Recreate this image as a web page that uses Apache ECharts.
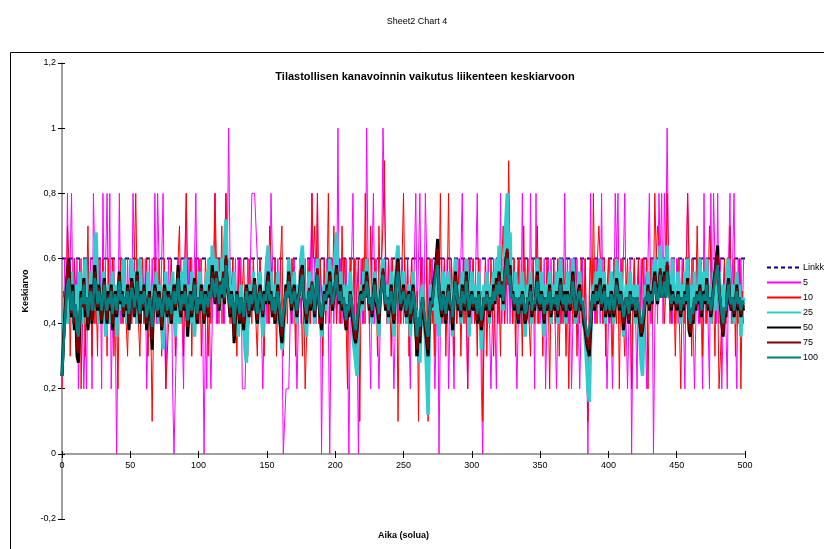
<!DOCTYPE html>
<html><head><meta charset="utf-8">
<script src="https://cdn.jsdelivr.net/npm/echarts@6/dist/echarts.min.js"></script>
<style>html,body{margin:0;padding:0;background:#fff}#c{width:824px;height:549px}</style>
</head><body><div id="c"></div>
<script>
const seriesNames = ['Linkk','5','10','25','50','75','100'];
const linkX = [0, 500];
const linkY = [0.6, 0.6];
const s5 = [
0.2,0.4,0.6,0.4,0.8,0.4,0.6,0.8,0.4,0.6, 0.4,0.6,0.2,0.4,0.6,0.4,0.2,0.4,0.2,0.6,
0.4,0.6,0.2,0.8,0.6,0.4,0.6,0.4,0.6,0.2, 0.8,0.4,0.6,0.8,0.4,0.8,0.2,0.4,0.6,0.4,
0,0.4,0.8,0.4,0.6,0.4,0.6,0.4,0.6,0.4, 0.6,0.4,0.8,0.6,0.4,0.6,0.4,0.6,0.4,0.6,
0.4,0.6,0.2,0.4,0.6,0.4,0.6,0.4,0.8,0.4, 0.8,0.6,0.4,0.6,0.8,0.4,0.2,0.4,0.6,0.4,
0.6,0.2,0,0.2,0.4,0.6,0.4,0.6,0.4,0.2, 0.6,0.8,0.4,0.6,0.4,0.6,0.4,0.6,0.8,0.4,
0.6,0.4,0.6,0.4,0,0.4,0.2,0.6,0.4,0.2, 0.4,0.6,0.8,0.4,0.6,0.4,0.6,0.4,0.6,0.4,
0.8,0.6,1,0.6,0.4,0.6,0.4,0.6,0.4,0.6, 0.4,0.6,0.2,0.2,0.2,0.4,0.6,0.4,0.6,0.8,
0.8,0.8,0.8,0.6,0.4,0.6,0.4,0.2,0.4,0.6, 0.4,0.6,0.4,0.8,0.8,0.4,0.6,0.4,0.6,0.4,
0.6,0.4,0,0,0.2,0.2,0.2,0.4,0.6,0.4, 0.6,0.4,0.2,0.4,0.6,0.4,0.6,0.4,0.6,0.4,
0.6,0.4,0.6,0.8,0.4,0.6,0.4,0.8,0.4,0.6, 0,0.4,0.6,0.4,0.6,0.4,0,0.4,0.6,0.4,
0.6,0.4,1,0.4,0.6,0.4,0.6,0.4,0.6,0.4, 0,0.4,0.6,0.8,0.4,0.6,0.4,0,0.4,0.6,
0.4,0.6,0.4,1,0.6,0.4,0.2,0.6,0.8,0.4, 0.6,0.4,0.2,0.4,0.6,1,1,0.6,0.4,0.6,
0.4,0.6,0.4,0.2,0.4,0.6,0.4,0.6,0.4,0.6, 0.4,0.6,0.4,0.6,0.4,0.2,0.6,0.4,0.6,0.8,
0.4,0.6,0.8,0.4,0.6,0.4,0.8,0.6,0.4,0.6, 0.4,0.6,0.4,0.2,0.4,0.6,0,0.4,0.6,0.4,
0.6,0.4,0.6,0.2,0.4,0.6,0.4,0.2,0.6,0.4, 0.6,0.4,0.6,0.8,0.4,0.6,0.4,0.2,0.4,0.6,
0.4,0.6,0.4,0.6,0.8,0.4,0.6,0.2,0,0.4, 0.6,0.4,0.6,0.4,0.2,0.4,0.6,0.4,0.2,0.6,
0.4,0.8,0.4,0.6,0.4,0.6,0.4,0.6,0.4,0.6, 0.4,0.6,0.4,0.2,0.4,0.6,0.4,0.8,0.4,0.6,
0.4,0.6,0.4,0.8,0.4,0.6,0.2,0.8,0.4,0.6, 0.4,0.6,0.4,0.6,0.2,0.4,0.6,0.4,0.6,0.4,
0.6,0.4,0.2,0.4,0.6,0.4,0.6,0.4,0.8,0.4, 0.6,0.4,0.6,0.2,0.4,0.6,0.4,0.6,0.4,0.2,
0.4,0.6,0.4,0.6,0.4,0,0.4,0.8,0.4,0.6, 0.4,0.6,0.4,0.6,0.4,0.8,0.4,0.6,0.4,0.2,
0.4,0.6,0.4,0.2,0.4,0.8,0.6,0.8,0.4,0.6, 0.4,0.6,0.8,0.4,0.2,0.4,0.6,0,0.4,0.6,
0.4,0.2,0.6,0.4,0.6,0.4,0.6,0.4,0.2,0.6, 0.8,0.4,0.6,0,0.4,0.6,0.4,0.8,0.6,0.8,
0.4,0.8,0.6,1,0.6,0.4,0.6,0.4,0.6,0.4, 0.6,0.4,0.6,0.4,0.6,0.4,0.2,0.6,0.8,0.8,
0.4,0.6,0.4,0.2,0.4,0.6,0.4,0.6,0.4,0.2, 0.8,0.4,0.6,0.4,0.2,0.8,0.4,0.8,0.6,0.4,
0.8,0.4,0.6,0.2,0.4,0.6,0.4,0.2,0.6,0.8, 0.4,0.6,0.8,0.4,0.2,0.6,0.4,0.6,0.4,0.6
];
const s10 = [
0.2,0.5,0.5,0.4,0.7,0.6,0.3,0.5,0.4,0.6, 0.5,0.3,0.4,0.6,0.2,0.5,0.6,0.3,0.5,0.7,
0.4,0.5,0.3,0.6,0.4,0.5,0.3,0.6,0.4,0.5, 0.6,0.4,0.5,0.3,0.6,0.4,0.5,0.6,0.3,0.5,
0.4,0.2,0.5,0.6,0.4,0.5,0.6,0.4,0.3,0.5, 0.6,0.4,0.5,0.6,0.8,0.5,0.4,0.3,0.5,0.6,
0.4,0.5,0.6,0.3,0.5,0.4,0.1,0.4,0.6,0.5, 0.4,0.6,0.5,0.3,0.5,0.6,0.2,0.2,0.4,0.5,
0.6,0.4,0.5,0.3,0.5,0.6,0.7,0.4,0.5,0.3, 0.6,0.8,0.5,0.4,0.6,0.3,0.5,0.4,0.6,0.5,
0.4,0.6,0.3,0.5,0.4,0.6,0.5,0.3,0.5,0.4, 0.6,0.5,0.8,0.6,0.4,0.6,0.5,0.7,0.4,0.6,
0.8,0.5,0.6,0.4,0.5,0.6,0.4,0.5,0.3,0.5, 0.6,0.4,0.5,0.6,0.4,0.5,0.3,0.6,0.5,0.4,
0.6,0.5,0.4,0.3,0.5,0.6,0.4,0.5,0.3,0.5, 0.6,0.4,0.7,0.7,0.5,0.4,0.6,0.3,0.5,0.4,
0.6,0.7,0.3,0.3,0.5,0.4,0.6,0.5,0.4,0.6, 0.5,0.3,0.5,0.4,0.6,0.5,0.3,0.5,0.2,0.2,
0.5,0.6,0.4,0.8,0.6,0.7,0.5,0.8,0.4,0.6, 0.5,0.3,0.6,0.4,0.5,0.8,0.4,0.6,0.5,0.7,
0.7,0.4,0.5,0.6,0.4,0.7,0.5,0.6,0.4,0.2, 0.5,0.6,0.4,0.5,0.6,0.3,0.5,0.6,0.1,0.5,
0.6,0.4,0.8,0.5,0.6,0.4,0.7,0.5,0.4,0.6, 0.5,0.3,0.7,0.5,0.6,0.7,0.9,0.5,0.4,0.6,
0.5,0.3,0.6,0.4,0.5,0.6,0.1,0.5,0.4,0.6, 0.8,0.5,0.4,0.6,0.3,0.5,0.6,0.4,0.5,0.3,
0.5,0.1,0.5,0.6,0.4,0.5,0.3,0.6,0.1,0.5, 0.6,0.4,0.5,0.3,0.6,0.4,0.5,0.8,0.4,0.5,
0.6,0.3,0.5,0.8,0.4,0.6,0.5,0.3,0.6,0.4, 0.5,0.6,0.3,0.5,0.6,0.4,0.5,0.2,0.6,0.4,
0.5,0.6,0.4,0.5,0.3,0.6,0.4,0.5,0.1,0.4, 0.6,0.3,0.5,0.4,0.6,0.5,0.3,0.5,0.6,0.4,
0.5,0.3,0.6,0.7,0.4,0.5,0.6,0.9,0.6,0.5, 0.4,0.6,0.3,0.5,0.6,0.4,0.5,0.3,0.7,0.4,
0.5,0.6,0.4,0.3,0.5,0.6,0.4,0.5,0.7,0.4, 0.6,0.5,0.3,0.5,0.4,0.6,0.5,0.2,0.5,0.4,
0.6,0.4,0.5,0.6,0.3,0.5,0.4,0.6,0.5,0.3, 0.5,0.2,0.5,0.6,0.4,0.5,0.6,0.3,0.5,0.4,
0.6,0.5,0.4,0.6,0.3,0.1,0.5,0.6,0.4,0.8, 0.5,0.4,0.6,0.7,0.7,0.5,0.4,0.6,0.3,0.5,
0.6,0.4,0.5,0.3,0.6,0.5,0.4,0.6,0.2,0.5, 0.6,0.4,0.3,0.5,0.6,0.4,0.5,0.2,0.5,0.6,
0.4,0.5,0.6,0.3,0.5,0.6,0.4,0.5,0.6,0.2, 0.5,0.6,0.4,0.5,0.8,0.6,0.7,0.7,0.6,0.5,
0.6,0.4,0.5,0.8,0.6,0.5,0.4,0.6,0.5,0.3, 0.5,0.6,0.4,0.2,0.5,0.6,0.4,0.5,0.8,0.6,
0.5,0.3,0.6,0.4,0.5,0.7,0.5,0.4,0.6,0.3, 0.5,0.6,0.4,0.5,0.7,0.6,0.4,0.5,0.3,0.6,
0.5,0.2,0.3,0.3,0.5,0.6,0.4,0.6,0.5,0.7, 0.5,0.4,0.6,0.3,0.5,0.4,0.6,0.2,0.5,0.4
];
const s25 = [
0.24,0.36,0.48,0.44,0.4,0.52,0.48,0.56,0.44,0.4, 0.52,0.36,0.44,0.56,0.48,0.4,0.52,0.6,0.44,0.48,
0.4,0.56,0.52,0.44,0.6,0.68,0.48,0.4,0.52,0.44, 0.56,0.48,0.36,0.44,0.52,0.4,0.48,0.56,0.44,0.52,
0.36,0.48,0.56,0.44,0.52,0.6,0.48,0.44,0.4,0.52, 0.48,0.6,0.44,0.52,0.56,0.4,0.48,0.6,0.52,0.44,
0.52,0.48,0.4,0.56,0.44,0.36,0.48,0.52,0.44,0.56, 0.48,0.4,0.52,0.44,0.32,0.48,0.56,0.44,0.52,0.4,
0.48,0.56,0.44,0.36,0.52,0.48,0.4,0.56,0.44,0.52, 0.6,0.48,0.44,0.52,0.4,0.56,0.48,0.36,0.44,0.52,
0.48,0.56,0.44,0.52,0.4,0.48,0.56,0.52,0.6,0.48, 0.64,0.56,0.52,0.6,0.48,0.56,0.44,0.6,0.52,0.64,
0.72,0.56,0.6,0.48,0.52,0.44,0.56,0.4,0.48,0.36, 0.44,0.52,0.48,0.4,0.32,0.28,0.4,0.52,0.44,0.48,
0.56,0.44,0.52,0.4,0.48,0.56,0.44,0.36,0.48,0.52, 0.6,0.64,0.48,0.56,0.44,0.52,0.4,0.48,0.56,0.44,
0.4,0.32,0.36,0.44,0.52,0.48,0.6,0.52,0.44,0.48, 0.56,0.44,0.4,0.52,0.48,0.6,0.64,0.52,0.44,0.36,
0.48,0.56,0.44,0.52,0.48,0.4,0.56,0.6,0.48,0.44, 0.36,0.48,0.52,0.44,0.56,0.48,0.6,0.52,0.44,0.56,
0.6,0.68,0.52,0.48,0.56,0.44,0.52,0.48,0.4,0.52, 0.44,0.56,0.48,0.36,0.32,0.28,0.24,0.4,0.48,0.52,
0.44,0.56,0.48,0.6,0.52,0.44,0.48,0.4,0.52,0.56, 0.48,0.44,0.36,0.52,0.56,0.6,0.48,0.44,0.52,0.4,
0.48,0.56,0.44,0.36,0.52,0.6,0.64,0.48,0.44,0.52, 0.56,0.44,0.48,0.4,0.52,0.36,0.44,0.56,0.48,0.4,
0.32,0.44,0.28,0.48,0.52,0.4,0.36,0.24,0.12,0.4, 0.52,0.48,0.44,0.56,0.4,0.48,0.36,0.52,0.44,0.56,
0.48,0.4,0.52,0.56,0.44,0.48,0.36,0.52,0.6,0.48, 0.44,0.52,0.4,0.56,0.48,0.44,0.6,0.52,0.36,0.48,
0.56,0.44,0.52,0.48,0.4,0.56,0.44,0.32,0.48,0.52, 0.44,0.56,0.48,0.4,0.52,0.44,0.56,0.48,0.6,0.52,
0.64,0.48,0.56,0.44,0.6,0.72,0.8,0.56,0.68,0.48, 0.52,0.44,0.56,0.48,0.4,0.52,0.44,0.56,0.48,0.36,
0.44,0.52,0.48,0.56,0.4,0.48,0.44,0.52,0.6,0.48, 0.44,0.56,0.48,0.36,0.52,0.44,0.48,0.56,0.4,0.52,
0.48,0.44,0.56,0.4,0.52,0.6,0.48,0.44,0.52,0.4, 0.56,0.48,0.44,0.52,0.6,0.48,0.4,0.44,0.52,0.56,
0.44,0.48,0.4,0.36,0.28,0.2,0.16,0.36,0.48,0.52, 0.44,0.56,0.48,0.52,0.6,0.44,0.48,0.56,0.4,0.52,
0.48,0.44,0.56,0.52,0.4,0.48,0.6,0.52,0.44,0.56, 0.48,0.36,0.44,0.52,0.48,0.4,0.56,0.44,0.52,0.48,
0.4,0.52,0.44,0.36,0.28,0.24,0.4,0.52,0.48,0.56, 0.44,0.52,0.48,0.56,0.6,0.52,0.48,0.56,0.64,0.52,
0.56,0.6,0.48,0.64,0.52,0.56,0.44,0.6,0.48,0.52, 0.44,0.56,0.48,0.4,0.52,0.44,0.56,0.48,0.6,0.44,
0.52,0.48,0.4,0.56,0.44,0.52,0.48,0.6,0.44,0.52, 0.56,0.48,0.6,0.44,0.52,0.4,0.48,0.56,0.44,0.52,
0.48,0.56,0.44,0.4,0.52,0.48,0.44,0.56,0.6,0.48, 0.44,0.52,0.4,0.48,0.56,0.44,0.52,0.36,0.44,0.48
];
const s50 = [
0.24,0.34,0.42,0.5,0.56,0.6,0.48,0.42,0.52,0.38, 0.44,0.3,0.28,0.4,0.5,0.46,0.54,0.42,0.48,0.38,
0.46,0.52,0.4,0.48,0.58,0.5,0.44,0.52,0.46,0.4, 0.48,0.54,0.46,0.4,0.5,0.44,0.52,0.38,0.46,0.5,
0.42,0.48,0.56,0.46,0.5,0.42,0.48,0.44,0.52,0.38, 0.46,0.54,0.5,0.42,0.48,0.56,0.46,0.4,0.5,0.44,
0.52,0.46,0.38,0.44,0.5,0.42,0.32,0.46,0.52,0.48, 0.42,0.5,0.46,0.38,0.44,0.52,0.48,0.42,0.5,0.46,
0.4,0.48,0.52,0.44,0.5,0.58,0.46,0.42,0.5,0.44, 0.52,0.46,0.36,0.44,0.5,0.42,0.48,0.54,0.46,0.4,
0.48,0.44,0.52,0.46,0.4,0.5,0.46,0.42,0.52,0.48, 0.58,0.52,0.46,0.56,0.5,0.44,0.52,0.48,0.54,0.46,
0.6,0.52,0.48,0.42,0.5,0.46,0.34,0.42,0.5,0.46, 0.4,0.48,0.44,0.38,0.46,0.52,0.48,0.42,0.5,0.44,
0.48,0.54,0.44,0.4,0.48,0.52,0.46,0.42,0.5,0.46, 0.52,0.56,0.46,0.5,0.42,0.48,0.4,0.46,0.52,0.44,
0.38,0.34,0.4,0.46,0.52,0.48,0.56,0.5,0.44,0.48, 0.52,0.46,0.42,0.48,0.5,0.56,0.58,0.48,0.44,0.4,
0.46,0.5,0.44,0.52,0.48,0.42,0.5,0.56,0.46,0.42, 0.38,0.44,0.5,0.46,0.52,0.48,0.56,0.5,0.44,0.48,
0.52,0.58,0.5,0.46,0.52,0.44,0.48,0.42,0.38,0.46, 0.42,0.5,0.46,0.4,0.36,0.34,0.38,0.44,0.48,0.5,
0.46,0.52,0.48,0.56,0.5,0.44,0.48,0.42,0.5,0.54, 0.46,0.44,0.4,0.48,0.52,0.56,0.5,0.44,0.48,0.42,
0.46,0.52,0.44,0.4,0.5,0.56,0.6,0.5,0.44,0.48, 0.52,0.46,0.42,0.48,0.5,0.4,0.44,0.52,0.46,0.38,
0.3,0.4,0.34,0.44,0.48,0.42,0.38,0.34,0.3,0.42, 0.48,0.46,0.52,0.56,0.6,0.66,0.5,0.46,0.42,0.5,
0.46,0.4,0.48,0.52,0.44,0.46,0.38,0.48,0.56,0.5, 0.44,0.48,0.42,0.52,0.46,0.44,0.56,0.5,0.42,0.46,
0.5,0.44,0.48,0.46,0.4,0.5,0.44,0.38,0.42,0.48, 0.44,0.5,0.46,0.42,0.48,0.44,0.52,0.46,0.54,0.5,
0.56,0.48,0.52,0.46,0.54,0.6,0.62,0.52,0.58,0.48, 0.5,0.44,0.48,0.46,0.4,0.48,0.44,0.5,0.46,0.4,
0.42,0.48,0.46,0.52,0.42,0.46,0.44,0.5,0.56,0.46, 0.44,0.5,0.46,0.4,0.48,0.44,0.46,0.52,0.42,0.48,
0.46,0.44,0.5,0.42,0.48,0.54,0.46,0.44,0.5,0.42, 0.5,0.46,0.44,0.5,0.56,0.48,0.42,0.44,0.5,0.52,
0.44,0.46,0.4,0.38,0.34,0.32,0.3,0.38,0.46,0.5, 0.44,0.52,0.46,0.5,0.54,0.44,0.48,0.52,0.42,0.48,
0.46,0.42,0.5,0.48,0.42,0.46,0.54,0.5,0.44,0.5, 0.46,0.38,0.42,0.48,0.46,0.4,0.5,0.44,0.48,0.46,
0.42,0.48,0.44,0.4,0.36,0.38,0.42,0.48,0.46,0.52, 0.44,0.5,0.46,0.52,0.56,0.5,0.46,0.52,0.56,0.48,
0.52,0.56,0.48,0.58,0.5,0.52,0.44,0.5,0.46,0.48, 0.44,0.5,0.46,0.42,0.48,0.44,0.5,0.46,0.54,0.38,
0.36,0.44,0.4,0.48,0.44,0.5,0.46,0.52,0.42,0.48, 0.5,0.46,0.54,0.44,0.48,0.42,0.46,0.52,0.56,0.6,
0.64,0.5,0.46,0.4,0.36,0.44,0.42,0.5,0.54,0.46, 0.44,0.48,0.42,0.46,0.52,0.44,0.48,0.42,0.46,0.44
];
const s75 = [
0.24,0.33,0.41,0.49,0.56,0.59,0.48,0.43,0.5,0.4, 0.45,0.33,0.31,0.41,0.49,0.45,0.53,0.44,0.47,0.4,
0.47,0.51,0.41,0.48,0.56,0.51,0.45,0.51,0.47,0.41, 0.48,0.53,0.45,0.41,0.49,0.45,0.51,0.4,0.47,0.49,
0.43,0.48,0.55,0.47,0.49,0.43,0.48,0.45,0.51,0.4, 0.47,0.53,0.49,0.43,0.48,0.55,0.47,0.41,0.49,0.45,
0.51,0.47,0.4,0.44,0.49,0.43,0.35,0.45,0.51,0.48, 0.43,0.49,0.47,0.39,0.44,0.51,0.48,0.43,0.49,0.47,
0.41,0.48,0.51,0.45,0.49,0.56,0.47,0.43,0.49,0.45, 0.51,0.47,0.39,0.44,0.49,0.43,0.48,0.53,0.47,0.41,
0.48,0.45,0.51,0.47,0.41,0.49,0.47,0.43,0.51,0.48, 0.56,0.53,0.47,0.56,0.51,0.45,0.53,0.49,0.56,0.47,
0.61,0.53,0.49,0.43,0.49,0.47,0.36,0.43,0.49,0.47, 0.41,0.48,0.45,0.4,0.45,0.51,0.48,0.43,0.49,0.45,
0.48,0.53,0.45,0.41,0.48,0.51,0.47,0.43,0.49,0.47, 0.51,0.55,0.47,0.49,0.43,0.48,0.41,0.47,0.51,0.45,
0.4,0.36,0.41,0.45,0.51,0.48,0.55,0.51,0.45,0.48, 0.51,0.47,0.43,0.48,0.49,0.55,0.57,0.48,0.45,0.41,
0.47,0.51,0.45,0.53,0.49,0.43,0.51,0.57,0.47,0.43, 0.4,0.45,0.49,0.47,0.51,0.49,0.55,0.51,0.45,0.48,
0.53,0.57,0.49,0.47,0.51,0.45,0.48,0.43,0.39,0.45, 0.43,0.49,0.47,0.41,0.37,0.35,0.39,0.44,0.48,0.49,
0.47,0.51,0.48,0.55,0.51,0.45,0.48,0.43,0.49,0.53, 0.47,0.45,0.41,0.48,0.52,0.57,0.51,0.45,0.48,0.43,
0.47,0.51,0.45,0.41,0.49,0.55,0.59,0.51,0.45,0.48, 0.51,0.47,0.43,0.48,0.49,0.41,0.44,0.51,0.47,0.39,
0.32,0.4,0.36,0.44,0.48,0.43,0.39,0.35,0.32,0.41, 0.47,0.45,0.51,0.55,0.59,0.63,0.51,0.47,0.43,0.49,
0.47,0.41,0.48,0.51,0.45,0.47,0.4,0.48,0.55,0.49, 0.45,0.48,0.43,0.51,0.47,0.45,0.55,0.49,0.43,0.47,
0.49,0.45,0.48,0.47,0.41,0.49,0.45,0.39,0.43,0.48, 0.45,0.49,0.47,0.43,0.48,0.45,0.51,0.47,0.53,0.49,
0.55,0.49,0.53,0.47,0.55,0.6,0.63,0.53,0.57,0.48, 0.49,0.45,0.48,0.47,0.41,0.48,0.45,0.49,0.47,0.41,
0.43,0.48,0.47,0.51,0.43,0.47,0.45,0.49,0.55,0.47, 0.45,0.49,0.47,0.41,0.48,0.45,0.47,0.51,0.43,0.48,
0.47,0.45,0.49,0.43,0.48,0.53,0.47,0.45,0.49,0.43, 0.49,0.47,0.45,0.49,0.55,0.48,0.43,0.45,0.49,0.51,
0.45,0.47,0.41,0.39,0.35,0.33,0.32,0.39,0.47,0.49, 0.45,0.51,0.47,0.49,0.53,0.45,0.48,0.51,0.43,0.48,
0.47,0.43,0.49,0.48,0.43,0.47,0.53,0.49,0.45,0.49, 0.47,0.4,0.43,0.48,0.47,0.41,0.49,0.45,0.48,0.47,
0.43,0.48,0.45,0.41,0.37,0.39,0.43,0.48,0.47,0.51, 0.45,0.49,0.47,0.51,0.55,0.49,0.47,0.51,0.57,0.48,
0.51,0.55,0.48,0.59,0.51,0.51,0.45,0.49,0.47,0.48, 0.45,0.49,0.47,0.43,0.48,0.45,0.49,0.47,0.53,0.4,
0.37,0.44,0.41,0.48,0.45,0.49,0.47,0.51,0.43,0.48, 0.49,0.47,0.53,0.45,0.48,0.43,0.47,0.51,0.55,0.59,
0.61,0.51,0.47,0.41,0.37,0.44,0.43,0.49,0.53,0.47, 0.45,0.48,0.43,0.47,0.51,0.45,0.48,0.43,0.47,0.45
];
const s100 = [
0.24,0.32,0.4,0.46,0.52,0.54,0.48,0.44,0.5,0.42, 0.46,0.38,0.36,0.42,0.48,0.46,0.52,0.46,0.48,0.42,
0.48,0.5,0.44,0.48,0.54,0.52,0.46,0.5,0.48,0.44, 0.48,0.52,0.46,0.44,0.48,0.46,0.5,0.43,0.47,0.49,
0.44,0.48,0.53,0.47,0.49,0.45,0.48,0.46,0.5,0.43, 0.47,0.51,0.49,0.45,0.48,0.53,0.47,0.43,0.49,0.46,
0.5,0.47,0.42,0.45,0.48,0.44,0.39,0.45,0.5,0.48, 0.44,0.48,0.47,0.42,0.45,0.5,0.48,0.44,0.48,0.47,
0.43,0.48,0.5,0.46,0.49,0.54,0.47,0.44,0.49,0.46, 0.5,0.47,0.41,0.45,0.49,0.44,0.48,0.52,0.47,0.43,
0.48,0.46,0.5,0.47,0.43,0.49,0.47,0.45,0.5,0.48, 0.54,0.52,0.48,0.54,0.5,0.46,0.52,0.49,0.54,0.48,
0.58,0.52,0.49,0.45,0.49,0.47,0.4,0.45,0.49,0.47, 0.43,0.48,0.46,0.42,0.46,0.5,0.48,0.44,0.49,0.46,
0.48,0.52,0.46,0.43,0.48,0.5,0.47,0.44,0.49,0.47, 0.5,0.53,0.47,0.49,0.44,0.48,0.43,0.47,0.5,0.46,
0.42,0.39,0.43,0.46,0.5,0.48,0.53,0.5,0.46,0.48, 0.5,0.47,0.44,0.48,0.49,0.53,0.55,0.48,0.46,0.43,
0.47,0.5,0.46,0.52,0.49,0.44,0.5,0.55,0.47,0.44, 0.42,0.46,0.49,0.47,0.5,0.49,0.53,0.5,0.46,0.48,
0.52,0.55,0.49,0.47,0.5,0.46,0.48,0.44,0.41,0.46, 0.44,0.49,0.47,0.43,0.4,0.38,0.41,0.45,0.48,0.49,
0.47,0.5,0.48,0.53,0.5,0.46,0.48,0.44,0.49,0.52, 0.47,0.46,0.43,0.48,0.51,0.55,0.5,0.46,0.48,0.44,
0.47,0.5,0.46,0.43,0.49,0.53,0.56,0.5,0.46,0.48, 0.5,0.47,0.44,0.48,0.49,0.43,0.45,0.5,0.47,0.41,
0.36,0.42,0.39,0.45,0.48,0.44,0.41,0.38,0.36,0.42, 0.47,0.46,0.5,0.53,0.56,0.58,0.5,0.47,0.44,0.49,
0.47,0.43,0.48,0.5,0.46,0.47,0.42,0.48,0.53,0.49, 0.46,0.48,0.44,0.5,0.47,0.46,0.53,0.49,0.44,0.47,
0.49,0.46,0.48,0.47,0.43,0.49,0.46,0.41,0.44,0.48, 0.46,0.49,0.47,0.44,0.48,0.46,0.5,0.47,0.52,0.49,
0.53,0.49,0.52,0.47,0.53,0.57,0.6,0.52,0.55,0.48, 0.49,0.46,0.48,0.47,0.43,0.48,0.46,0.49,0.47,0.43,
0.44,0.48,0.47,0.5,0.44,0.47,0.46,0.49,0.53,0.47, 0.46,0.49,0.47,0.43,0.48,0.46,0.47,0.5,0.44,0.48,
0.47,0.46,0.49,0.44,0.48,0.52,0.47,0.46,0.49,0.44, 0.49,0.47,0.46,0.49,0.53,0.48,0.44,0.46,0.49,0.5,
0.46,0.47,0.43,0.41,0.38,0.36,0.36,0.41,0.47,0.49, 0.46,0.5,0.47,0.49,0.52,0.46,0.48,0.5,0.44,0.48,
0.47,0.44,0.49,0.48,0.44,0.47,0.52,0.49,0.46,0.49, 0.47,0.42,0.44,0.48,0.47,0.43,0.49,0.46,0.48,0.47,
0.44,0.48,0.46,0.43,0.4,0.41,0.44,0.48,0.47,0.5, 0.46,0.49,0.47,0.5,0.53,0.49,0.47,0.5,0.55,0.48,
0.5,0.53,0.48,0.56,0.5,0.5,0.46,0.49,0.47,0.48, 0.46,0.49,0.47,0.44,0.48,0.46,0.49,0.47,0.52,0.42,
0.4,0.45,0.43,0.48,0.46,0.49,0.47,0.5,0.44,0.48, 0.49,0.47,0.52,0.46,0.48,0.44,0.47,0.5,0.53,0.56,
0.58,0.5,0.47,0.43,0.4,0.45,0.44,0.49,0.52,0.47, 0.46,0.48,0.44,0.47,0.5,0.46,0.48,0.44,0.47,0.46
];

function pts(arr){ return arr.map(function(v,i){ return [i, v]; }); }

const chart = echarts.init(document.getElementById('c'), null, {renderer:'canvas'});
const FONT = 'Liberation Sans, Arial, sans-serif';
const colors = ['#000080','#FF00FF','#FF0000','#33CCCC','#000000','#800000','#008080'];
const widths = [2, 1, 1, 3.5, 3, 2.5, 2.5];
const datas = [linkX.map(function(x,i){return [x, linkY[i]];}), pts(s5), pts(s10), pts(s25), pts(s50), pts(s75), pts(s100)];

const series = seriesNames.map(function(n, k){
  return {
    name: n, type: 'line', data: datas[k], showSymbol: false, symbol: 'none',
    xAxisIndex: 0, yAxisIndex: 0, clip: false,
    lineStyle: {color: colors[k], width: widths[k], type: k === 0 ? [4,3] : 'solid'},
    itemStyle: {color: colors[k]},
    animation: false, z: 2 + k
  };
});

function fmt(v){ return String(Math.round(v*10)/10).replace('.', ','); }

chart.setOption({
  animation: false,
  backgroundColor: '#fff',
  textStyle: {fontFamily: FONT},
  title: [
    {text: 'Sheet2 Chart 4', left: 412, top: 12, textAlign: 'center',
     textStyle: {fontSize: 9, fontWeight: 'normal', color: '#000', fontFamily: FONT}},
    {text: 'Tilastollisen kanavoinnin vaikutus liikenteen keskiarvoon', left: 420, top: 66, textAlign: 'center',
     textStyle: {fontSize: 11, fontWeight: 'bold', color: '#000', fontFamily: FONT}}
  ],
  graphic: [{type: 'rect', shape: {x: 10.5, y: 52.5, width: 830, height: 520},
    style: {fill: 'none', stroke: '#000', lineWidth: 1}, silent: true, z: 0}],
  legend: {
    orient: 'vertical', left: 761, top: 258, itemWidth: 34, itemHeight: 10, itemGap: 6,
    itemStyle: {opacity: 0},
    textStyle: {fontSize: 9, color: '#000', fontFamily: FONT, padding: [0,0,0,-3]},
    data: seriesNames
  },
  grid: [
    {left: 62, top: 63, width: 683, height: 391, containLabel: false, outerBoundsMode: 'none'},
    {left: 62, top: 63, width: 683, height: 456, containLabel: false, outerBoundsMode: 'none'}
  ],
  xAxis: [
    {gridIndex: 0, type: 'value', min: 0, max: 500, interval: 50, position: 'bottom',
     axisLine: {onZero: false, lineStyle: {color: '#808080', width: 1.5}},
     axisTick: {inside: false, length: 4, lineStyle: {color: '#000'}},
     axisLabel: {fontSize: 9, color: '#000', margin: 7, fontFamily: FONT},
     splitLine: {show: false},
     name: 'Aika (solua)', nameLocation: 'middle', nameGap: 77,
     nameTextStyle: {fontSize: 9, fontWeight: 'bold', color: '#000', fontFamily: FONT}},
    {gridIndex: 0, type: 'value', min: 0, max: 500, interval: 50, position: 'bottom',
     axisLine: {onZero: false, show: false},
     axisTick: {inside: true, length: 3, lineStyle: {color: '#000'}},
     axisLabel: {show: false}, splitLine: {show: false}},
    {gridIndex: 1, type: 'value', min: 0, max: 500, show: false}
  ],
  yAxis: [
    {gridIndex: 0, type: 'value', min: 0, max: 1.2, interval: 0.2, show: false},
    {gridIndex: 1, type: 'value', min: -0.2, max: 1.2, interval: 0.2, position: 'left',
     axisLine: {show: true, onZero: false, lineStyle: {color: '#808080', width: 1.5}},
     axisTick: {show: true, inside: false, length: 4, lineStyle: {color: '#000'}},
     axisLabel: {fontSize: 9, color: '#000', margin: 6, formatter: fmt, fontFamily: FONT},
     splitLine: {show: false},
     name: 'Keskiarvo', nameLocation: 'middle', nameGap: 24, nameRotate: 90,
     nameTextStyle: {fontSize: 9, fontWeight: 'bold', color: '#000', fontFamily: FONT}},
    {gridIndex: 1, type: 'value', min: -0.2, max: 1.2, interval: 0.2, position: 'left',
     axisLine: {show: false, onZero: false}, axisTick: {show: true, inside: true, length: 3, lineStyle: {color: '#000'}},
     axisLabel: {show: false}, splitLine: {show: false}}
  ],
  series: series
});
</script></body></html>
